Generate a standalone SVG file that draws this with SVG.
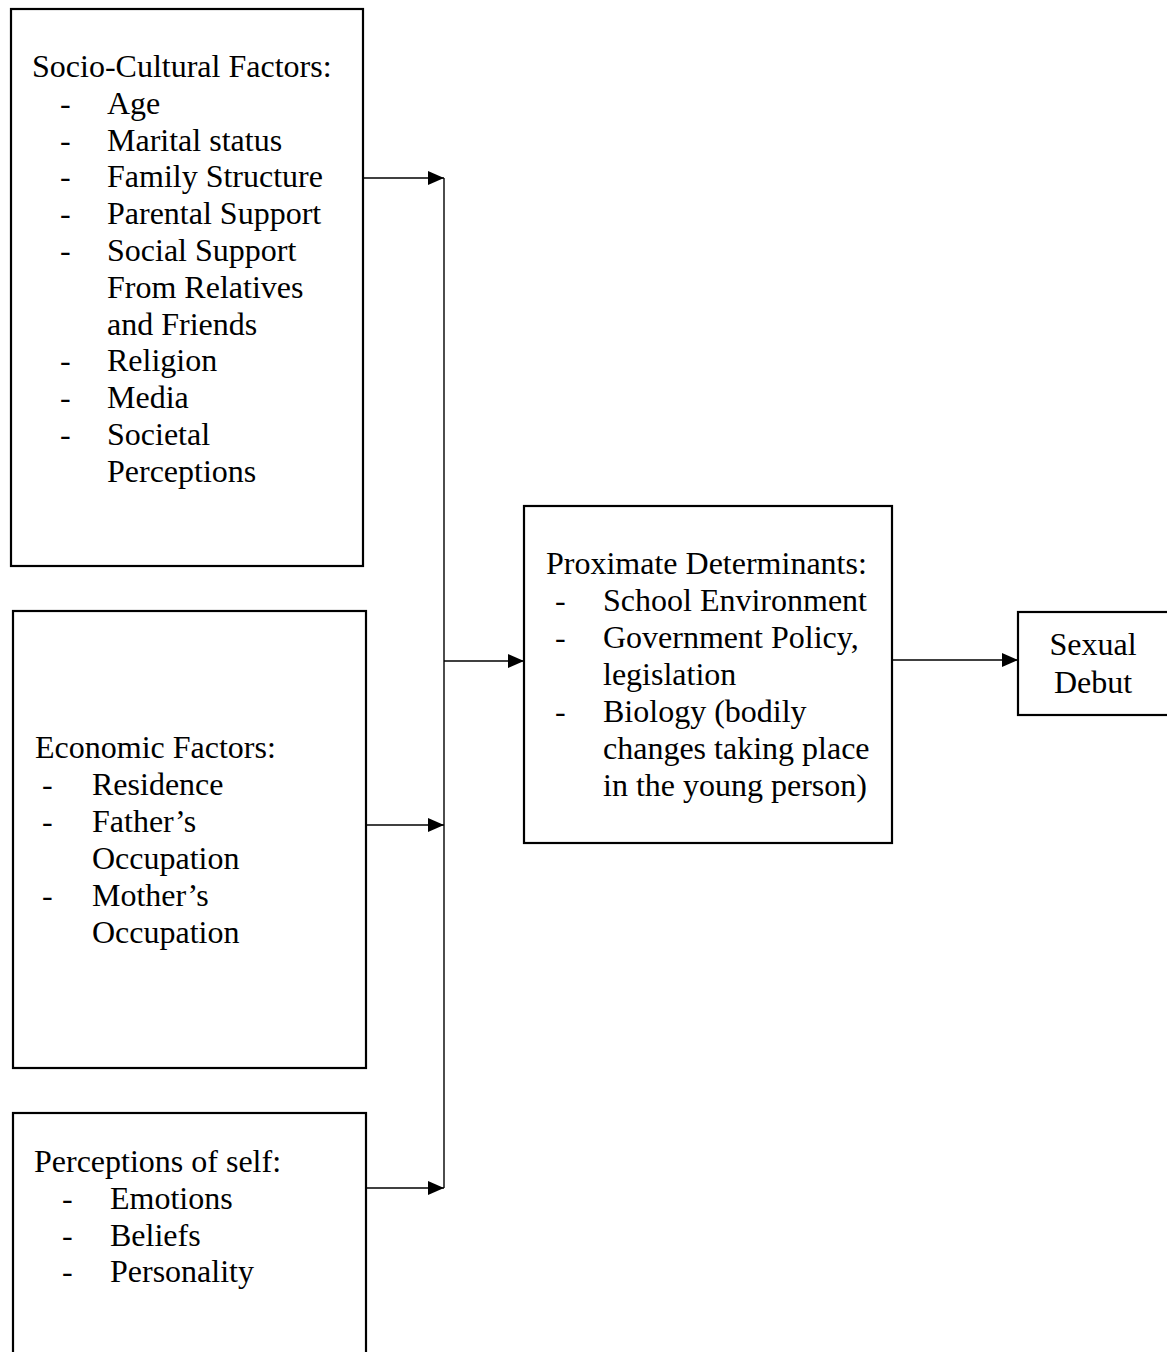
<svg xmlns="http://www.w3.org/2000/svg" width="1167" height="1352" viewBox="0 0 1167 1352">
<style>
.box{fill:#fff;stroke:#000;stroke-width:2.2}
.conn{stroke:#000;stroke-width:1.4;fill:none}
text{font-family:"Liberation Serif","Times New Roman",serif;font-size:32px;fill:#000}
</style>
<defs>
<marker id="ah" viewBox="0 0 16 14" refX="16" refY="7" markerWidth="16" markerHeight="14" markerUnits="userSpaceOnUse" orient="auto">
<path d="M0,0 L16,7 L0,14 Z" fill="#000"/>
</marker>
</defs>
<rect width="1167" height="1352" fill="#fff"/>
<g id="connectors">
<line class="conn" x1="363" y1="178" x2="444" y2="178" marker-end="url(#ah)"/>
<line class="conn" x1="366" y1="825" x2="444" y2="825" marker-end="url(#ah)"/>
<line class="conn" x1="366" y1="1188" x2="444" y2="1188" marker-end="url(#ah)"/>
<line class="conn" x1="444" y1="178" x2="444" y2="1188"/>
<line class="conn" x1="444" y1="661" x2="524" y2="661" marker-end="url(#ah)"/>
<line class="conn" x1="892" y1="660" x2="1018" y2="660" marker-end="url(#ah)"/>
</g>
<g id="socio-cultural">
<rect class="box" x="11" y="9" width="352" height="557"/>
<text x="32" y="77">Socio-Cultural Factors:</text>
<text x="60" y="113.8">-</text><text x="107" y="113.8">Age</text>
<text x="60" y="150.6">-</text><text x="107" y="150.6">Marital status</text>
<text x="60" y="187.4">-</text><text x="107" y="187.4">Family Structure</text>
<text x="60" y="224.2">-</text><text x="107" y="224.2">Parental Support</text>
<text x="60" y="261">-</text><text x="107" y="261">Social Support</text>
<text x="107" y="297.8">From Relatives</text>
<text x="107" y="334.6">and Friends</text>
<text x="60" y="371.4">-</text><text x="107" y="371.4">Religion</text>
<text x="60" y="408.2">-</text><text x="107" y="408.2">Media</text>
<text x="60" y="445">-</text><text x="107" y="445">Societal</text>
<text x="107" y="481.8">Perceptions</text>
</g>
<g id="economic">
<rect class="box" x="13" y="611" width="353" height="457"/>
<text x="35" y="758">Economic Factors:</text>
<text x="42" y="795">-</text><text x="92" y="795">Residence</text>
<text x="42" y="832">-</text><text x="92" y="832">Father’s</text>
<text x="92" y="869">Occupation</text>
<text x="42" y="906">-</text><text x="92" y="906">Mother’s</text>
<text x="92" y="943">Occupation</text>
</g>
<g id="perceptions-of-self">
<rect class="box" x="13" y="1113" width="353" height="260"/>
<text x="34" y="1172">Perceptions of self:</text>
<text x="62" y="1209">-</text><text x="110" y="1209">Emotions</text>
<text x="62" y="1246">-</text><text x="110" y="1246">Beliefs</text>
<text x="62" y="1282">-</text><text x="110" y="1282">Personality</text>
</g>
<g id="proximate">
<rect class="box" x="524" y="506" width="368" height="337"/>
<text x="546" y="574">Proximate Determinants:</text>
<text x="555" y="611">-</text><text x="603" y="611">School Environment</text>
<text x="555" y="648">-</text><text x="603" y="648">Government Policy,</text>
<text x="603" y="685">legislation</text>
<text x="555" y="722">-</text><text x="603" y="722">Biology (bodily</text>
<text x="603" y="759">changes taking place</text>
<text x="603" y="796">in the young person)</text>
</g>
<g id="sexual-debut">
<rect class="box" x="1018" y="612" width="170" height="103"/>
<text x="1093" y="655" text-anchor="middle">Sexual</text>
<text x="1093" y="693" text-anchor="middle">Debut</text>
</g>
</svg>
